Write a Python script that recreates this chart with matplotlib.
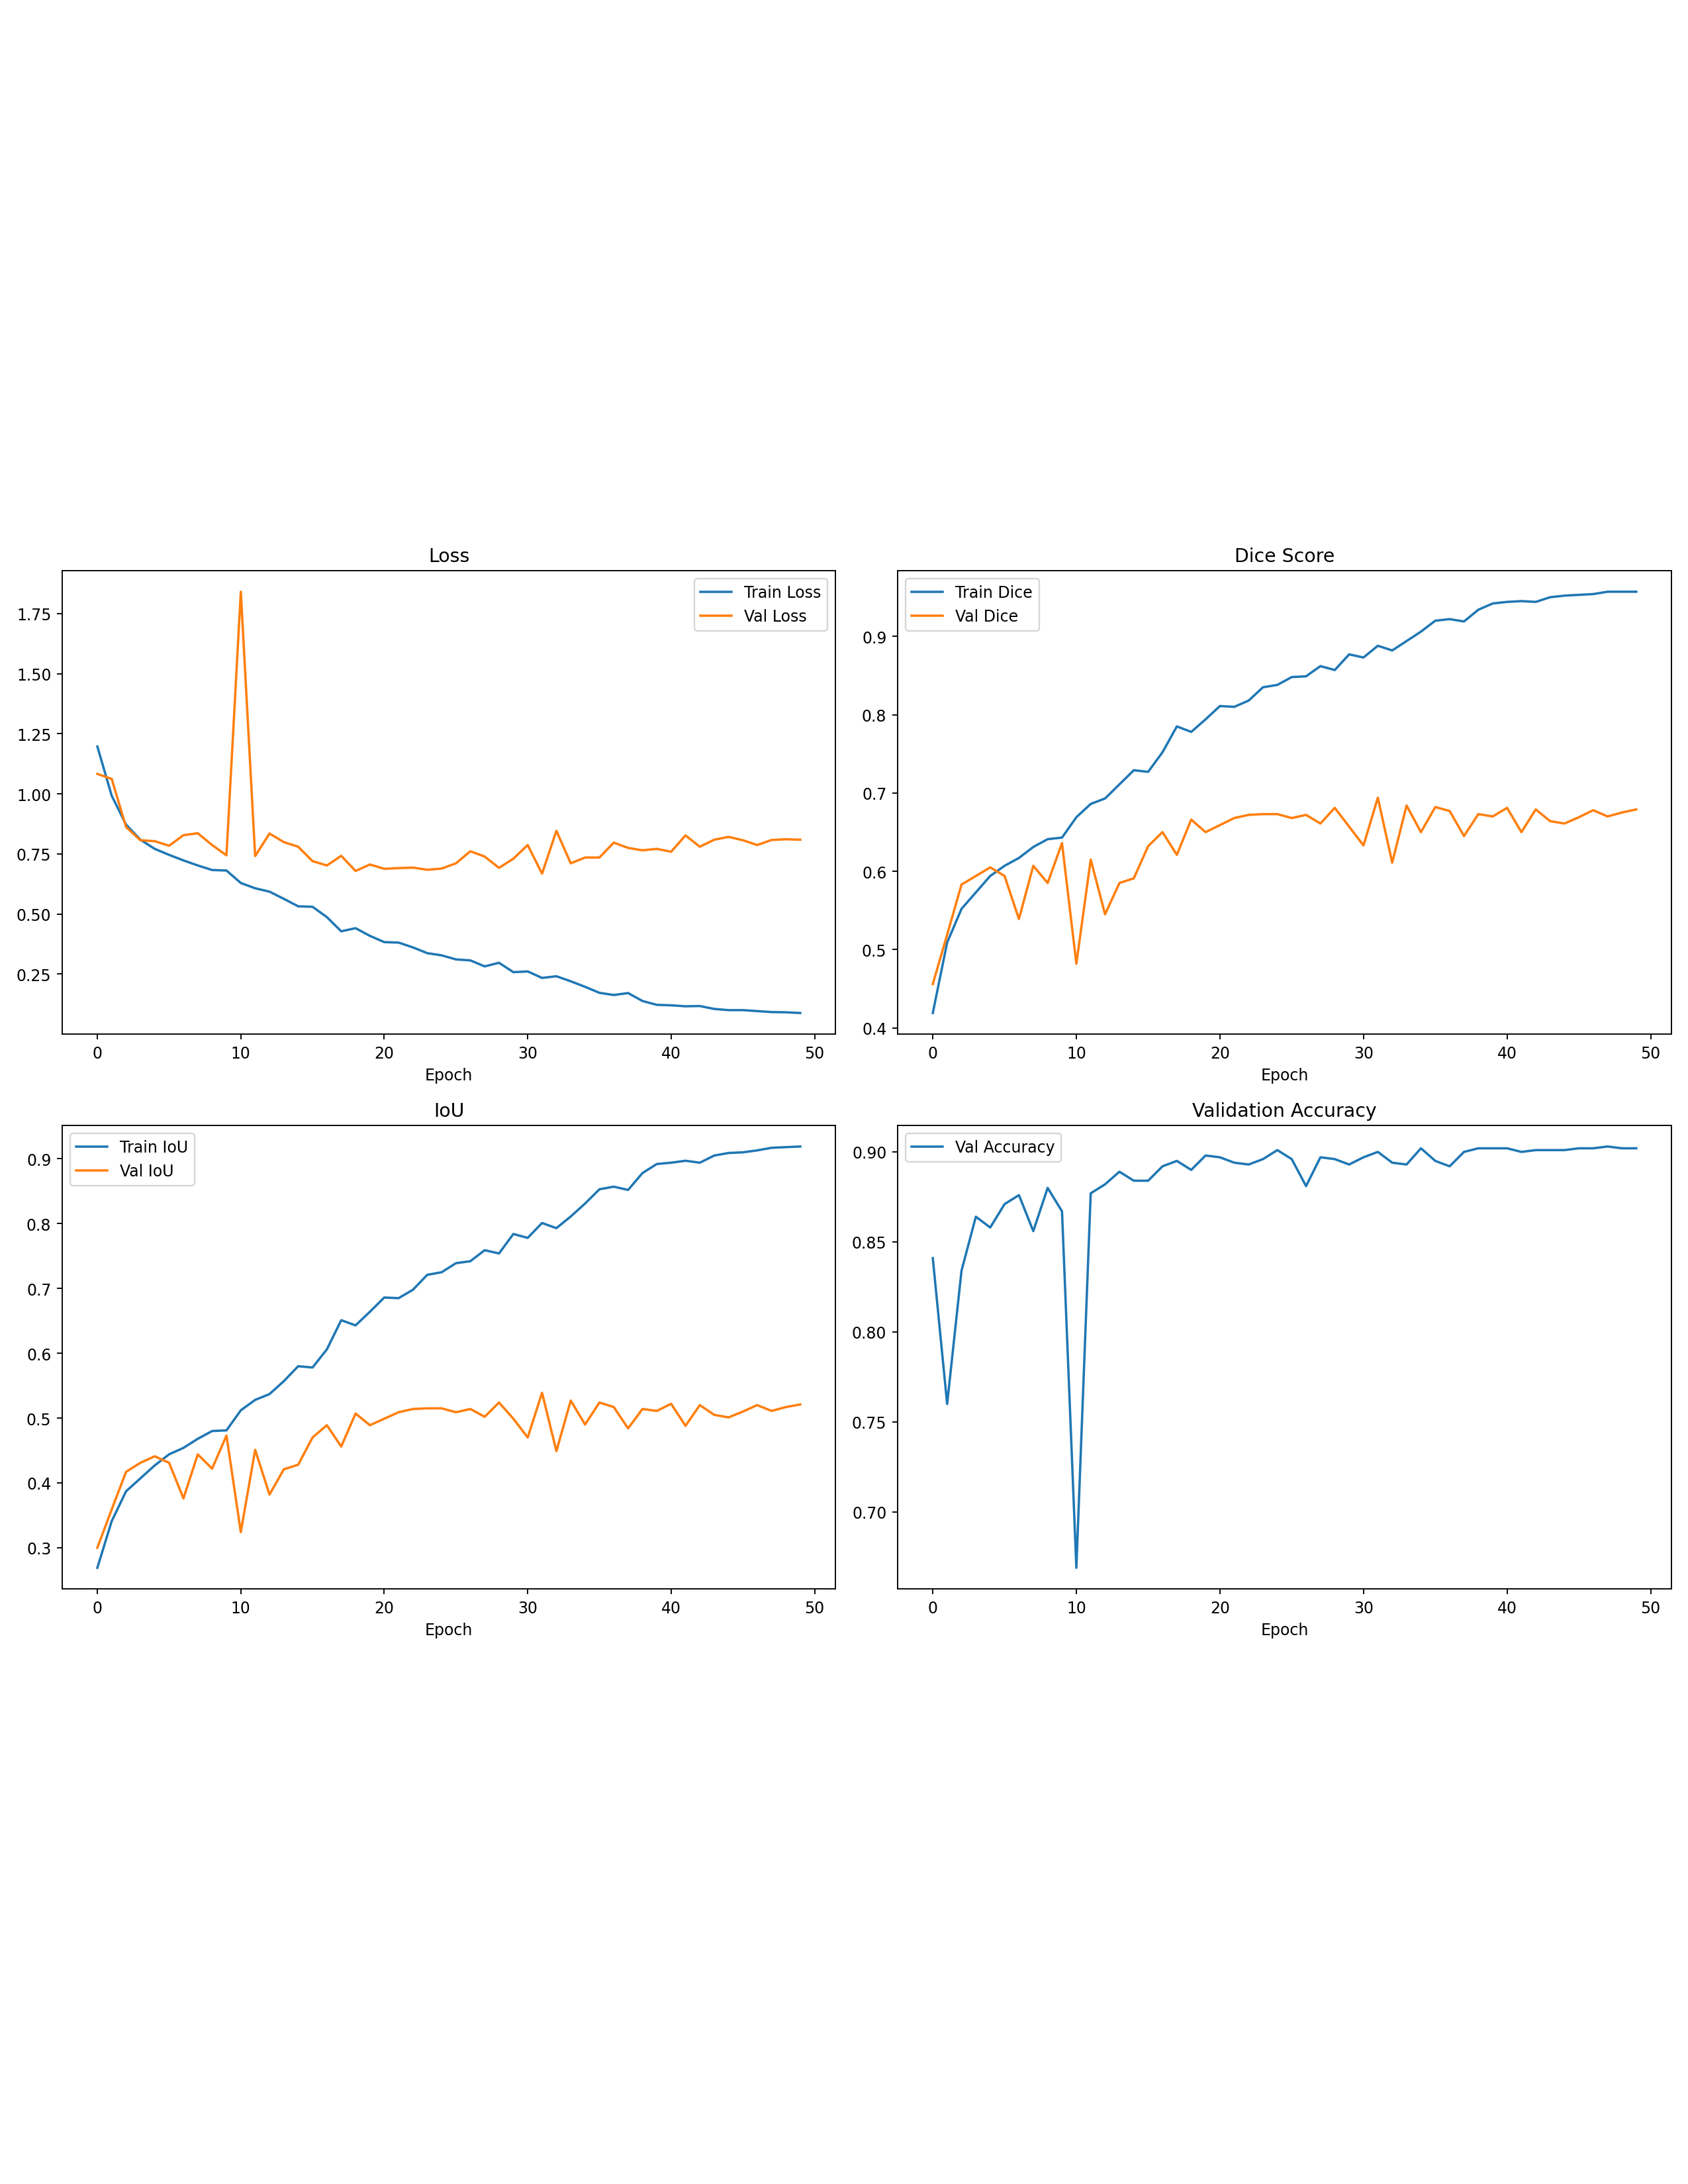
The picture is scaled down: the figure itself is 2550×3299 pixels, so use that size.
import matplotlib
matplotlib.use("Agg")
import matplotlib.pyplot as plt

epochs = list(range(50))

train_loss = [1.197, 0.992, 0.872, 0.809, 0.771, 0.746, 0.723, 0.702, 0.683, 0.681,
              0.629, 0.607, 0.593, 0.563, 0.532, 0.530, 0.487, 0.428, 0.441, 0.409,
              0.383, 0.381, 0.361, 0.337, 0.328, 0.311, 0.307, 0.282, 0.297, 0.258,
              0.261, 0.234, 0.241, 0.220, 0.197, 0.172, 0.163, 0.171, 0.138, 0.122,
              0.120, 0.116, 0.117, 0.105, 0.100, 0.100, 0.096, 0.092, 0.091, 0.088]
val_loss = [1.083, 1.062, 0.862, 0.807, 0.803, 0.784, 0.828, 0.836, 0.787, 0.744,
            1.841, 0.741, 0.835, 0.799, 0.780, 0.720, 0.702, 0.742, 0.679, 0.706,
            0.688, 0.691, 0.693, 0.684, 0.689, 0.711, 0.761, 0.739, 0.692, 0.730,
            0.787, 0.668, 0.846, 0.711, 0.735, 0.735, 0.797, 0.775, 0.765, 0.771,
            0.759, 0.827, 0.780, 0.809, 0.821, 0.807, 0.787, 0.808, 0.811, 0.809]

train_dice = [0.419, 0.509, 0.552, 0.573, 0.594, 0.607, 0.617, 0.631, 0.641, 0.643,
              0.669, 0.686, 0.693, 0.711, 0.729, 0.727, 0.752, 0.785, 0.778, 0.794,
              0.811, 0.810, 0.818, 0.835, 0.838, 0.848, 0.849, 0.862, 0.857, 0.877,
              0.873, 0.888, 0.882, 0.894, 0.906, 0.920, 0.922, 0.919, 0.934, 0.942,
              0.944, 0.945, 0.944, 0.950, 0.952, 0.953, 0.954, 0.957, 0.957, 0.957]
val_dice = [0.456, 0.519, 0.583, 0.594, 0.605, 0.594, 0.539, 0.607, 0.585, 0.636,
            0.482, 0.615, 0.545, 0.585, 0.591, 0.632, 0.650, 0.621, 0.666, 0.650,
            0.659, 0.668, 0.672, 0.673, 0.673, 0.668, 0.672, 0.661, 0.681, 0.657,
            0.633, 0.694, 0.611, 0.684, 0.650, 0.682, 0.677, 0.645, 0.673, 0.670,
            0.681, 0.650, 0.679, 0.664, 0.661, 0.669, 0.678, 0.670, 0.675, 0.679]

train_iou = [0.269, 0.341, 0.387, 0.407, 0.427, 0.444, 0.454, 0.468, 0.480, 0.481,
             0.512, 0.528, 0.537, 0.557, 0.580, 0.578, 0.606, 0.651, 0.643, 0.664,
             0.686, 0.685, 0.698, 0.721, 0.725, 0.739, 0.742, 0.759, 0.754, 0.784,
             0.778, 0.801, 0.793, 0.811, 0.831, 0.853, 0.857, 0.852, 0.878, 0.892,
             0.894, 0.897, 0.894, 0.905, 0.909, 0.910, 0.913, 0.917, 0.918, 0.919]
val_iou = [0.300, 0.359, 0.417, 0.431, 0.441, 0.431, 0.376, 0.444, 0.422, 0.473,
           0.324, 0.451, 0.382, 0.421, 0.428, 0.470, 0.489, 0.456, 0.507, 0.489,
           0.499, 0.509, 0.514, 0.515, 0.515, 0.509, 0.514, 0.502, 0.524, 0.499,
           0.470, 0.539, 0.449, 0.527, 0.490, 0.524, 0.517, 0.484, 0.514, 0.511,
           0.522, 0.488, 0.520, 0.505, 0.501, 0.510, 0.520, 0.511, 0.517, 0.521]

val_acc = [0.841, 0.760, 0.834, 0.864, 0.858, 0.871, 0.876, 0.856, 0.880, 0.867,
           0.669, 0.877, 0.882, 0.889, 0.884, 0.884, 0.892, 0.895, 0.890, 0.898,
           0.897, 0.894, 0.893, 0.896, 0.901, 0.896, 0.881, 0.897, 0.896, 0.893,
           0.897, 0.900, 0.894, 0.893, 0.902, 0.895, 0.892, 0.900, 0.902, 0.902,
           0.902, 0.900, 0.901, 0.901, 0.901, 0.902, 0.902, 0.903, 0.902, 0.902]

W, H = 2550, 3300
DPI = 170
fig = plt.figure(figsize=(W / DPI, H / DPI), dpi=DPI)

def rect(x0, y0, x1, y1):
    return [x0 / W, 1 - y1 / H, (x1 - x0) / W, (y1 - y0) / H]

ax1 = fig.add_axes(rect(94, 863, 1262, 1563))
ax2 = fig.add_axes(rect(1356, 863, 2525, 1563))
ax3 = fig.add_axes(rect(94, 1701, 1262, 2401))
ax4 = fig.add_axes(rect(1356, 1701, 2525, 2401))

ax1.plot(epochs, train_loss, label="Train Loss")
ax1.plot(epochs, val_loss, label="Val Loss")
ax1.set_title("Loss")
ax1.set_xlabel("Epoch")
ax1.legend(loc="upper right")

ax2.plot(epochs, train_dice, label="Train Dice")
ax2.plot(epochs, val_dice, label="Val Dice")
ax2.set_title("Dice Score")
ax2.set_xlabel("Epoch")
ax2.legend(loc="upper left")

ax3.plot(epochs, train_iou, label="Train IoU")
ax3.plot(epochs, val_iou, label="Val IoU")
ax3.set_title("IoU")
ax3.set_xlabel("Epoch")
ax3.legend(loc="upper left")

ax4.plot(epochs, val_acc, label="Val Accuracy")
ax4.set_title("Validation Accuracy")
ax4.set_xlabel("Epoch")
ax4.legend(loc="upper left")

fig.savefig("out.png", dpi=DPI)
